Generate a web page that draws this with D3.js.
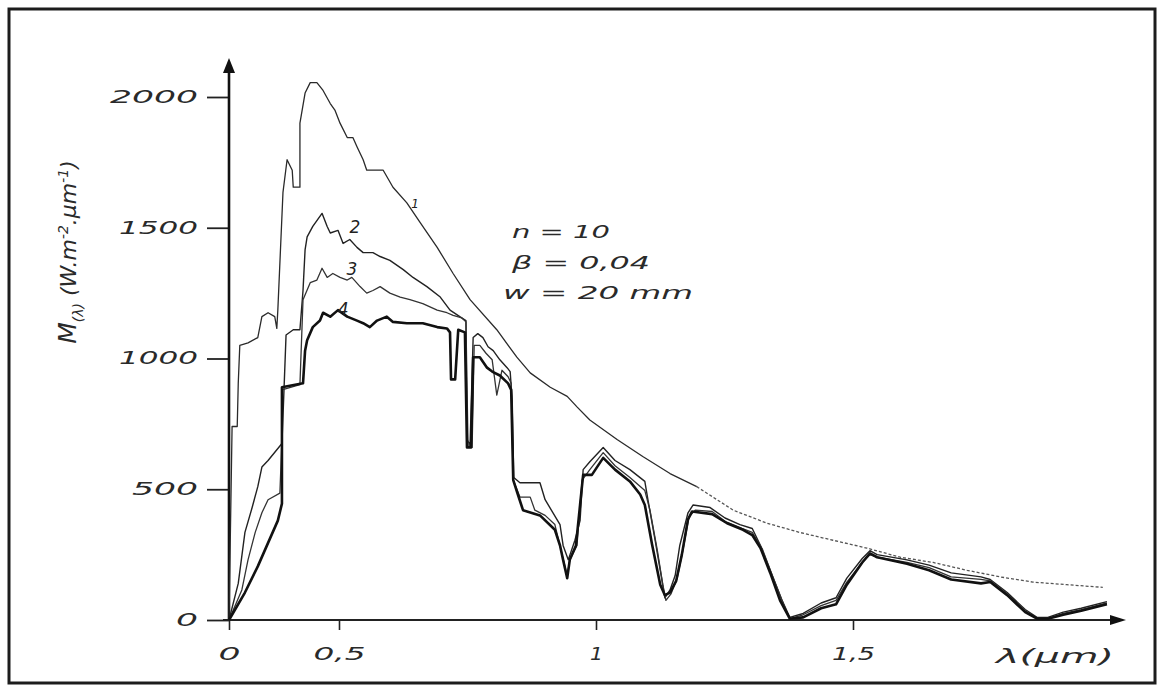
<!DOCTYPE html>
<html><head><meta charset="utf-8">
<script src="https://cdn.jsdelivr.net/npm/d3@7"></script>
<style>body{margin:0;background:#fff}svg{display:block}</style>
</head><body>
<svg id="chart" width="1162" height="689"></svg>
<script>
// Spectral irradiance M(λ) in W·m⁻²·µm⁻¹ against wavelength λ in µm.
// Curve 1: incident spectrum; curves 2–4: after successive passes (n = 10, β = 0.04, w = 20 mm).
const curve1 = [[0.286,0],[0.292,740],[0.302,740],[0.304,905],[0.307,1050],[0.323,1060],[0.342,1080],[0.350,1160],[0.362,1175],[0.375,1160],[0.379,1115],[0.381,1185],[0.391,1635],[0.399,1760],[0.409,1720],[0.411,1655],[0.424,1655],[0.424,1900],[0.434,2015],[0.444,2055],[0.457,2055],[0.469,2025],[0.483,1975],[0.492,1950],[0.502,1900],[0.516,1845],[0.527,1845],[0.535,1810],[0.547,1760],[0.554,1720],[0.586,1720],[0.605,1655],[0.632,1595],[0.658,1520],[0.691,1425],[0.722,1325],[0.755,1225],[0.807,1110],[0.846,1005],[0.872,945],[0.911,890],[0.944,855],[0.963,815],[0.988,765],[1.041,690],[1.091,625],[1.144,560],[1.196,510],[1.267,420],[1.333,370],[1.396,335],[1.461,305],[1.527,275],[1.592,240],[1.656,220],[1.722,190],[1.786,165],[1.850,145],[1.916,135],[1.986,125]];

const curve2 = [[0.286,0],[0.304,140],[0.317,335],[0.331,430],[0.342,510],[0.350,585],[0.362,610],[0.389,675],[0.393,880],[0.397,1090],[0.411,1110],[0.424,1110],[0.430,1260],[0.434,1415],[0.438,1465],[0.449,1505],[0.467,1555],[0.477,1505],[0.483,1480],[0.498,1490],[0.508,1440],[0.521,1455],[0.535,1425],[0.547,1405],[0.566,1405],[0.580,1390],[0.599,1375],[0.625,1340],[0.644,1310],[0.671,1275],[0.697,1235],[0.716,1185],[0.735,1160],[0.747,1145],[0.749,690],[0.755,670],[0.761,1080],[0.770,1095],[0.780,1080],[0.790,1045],[0.800,1030],[0.813,995],[0.827,965],[0.833,950],[0.837,840],[0.840,545],[0.852,525],[0.891,525],[0.901,460],[0.930,365],[0.936,285],[0.946,230],[0.959,305],[0.969,380],[0.975,575],[0.988,605],[1.014,660],[1.037,610],[1.066,575],[1.095,530],[1.101,460],[1.115,305],[1.128,155],[1.134,85],[1.144,115],[1.154,170],[1.163,285],[1.179,410],[1.189,440],[1.222,430],[1.251,390],[1.280,365],[1.304,350],[1.320,285],[1.339,190],[1.362,75],[1.377,10],[1.403,25],[1.438,65],[1.467,85],[1.488,160],[1.518,235],[1.533,265],[1.547,250],[1.605,230],[1.648,210],[1.691,180],[1.749,165],[1.767,155],[1.800,105],[1.835,40],[1.858,10],[1.879,10],[1.909,30],[1.944,45],[1.994,70]];

const curve3 = [[0.286,0],[0.311,115],[0.323,230],[0.337,335],[0.350,410],[0.362,460],[0.385,485],[0.389,690],[0.389,880],[0.424,900],[0.430,1225],[0.444,1290],[0.457,1300],[0.467,1345],[0.477,1310],[0.488,1325],[0.502,1310],[0.516,1300],[0.525,1310],[0.541,1275],[0.554,1250],[0.566,1260],[0.580,1275],[0.599,1250],[0.619,1235],[0.638,1225],[0.663,1210],[0.691,1185],[0.710,1175],[0.722,1165],[0.739,1155],[0.747,1140],[0.751,670],[0.759,660],[0.763,1050],[0.774,1050],[0.786,1020],[0.798,995],[0.807,860],[0.817,955],[0.829,930],[0.835,905],[0.839,535],[0.852,470],[0.872,470],[0.881,420],[0.901,400],[0.920,365],[0.934,250],[0.944,170],[0.949,230],[0.963,285],[0.973,535],[0.988,575],[1.014,640],[1.037,590],[1.066,545],[1.095,495],[1.105,420],[1.119,270],[1.130,135],[1.136,75],[1.146,100],[1.158,160],[1.169,265],[1.181,395],[1.193,420],[1.226,415],[1.253,375],[1.284,350],[1.304,335],[1.324,270],[1.343,170],[1.366,55],[1.377,5],[1.403,20],[1.438,55],[1.467,75],[1.488,145],[1.518,220],[1.533,250],[1.547,240],[1.605,220],[1.648,200],[1.691,165],[1.749,155],[1.767,150],[1.800,100],[1.835,35],[1.858,5],[1.879,5],[1.909,25],[1.944,40],[1.994,65]];

const curve4 = [[0.286,0],[0.317,105],[0.342,205],[0.362,295],[0.381,380],[0.389,445],[0.389,890],[0.430,905],[0.434,1030],[0.438,1070],[0.449,1120],[0.463,1145],[0.469,1175],[0.483,1160],[0.498,1185],[0.516,1160],[0.535,1145],[0.547,1135],[0.560,1120],[0.574,1145],[0.593,1160],[0.605,1140],[0.632,1135],[0.663,1135],[0.691,1120],[0.710,1115],[0.716,1100],[0.718,920],[0.726,920],[0.732,1110],[0.745,1100],[0.749,660],[0.757,660],[0.761,1005],[0.774,1005],[0.788,965],[0.798,950],[0.813,935],[0.829,905],[0.835,880],[0.839,535],[0.848,480],[0.858,420],[0.891,400],[0.920,345],[0.930,285],[0.936,230],[0.944,160],[0.949,230],[0.961,285],[0.969,440],[0.975,555],[0.992,555],[1.014,620],[1.037,575],[1.066,530],[1.086,480],[1.095,440],[1.109,290],[1.125,135],[1.134,95],[1.144,105],[1.156,150],[1.167,250],[1.179,385],[1.187,415],[1.226,405],[1.255,370],[1.286,345],[1.304,325],[1.320,275],[1.339,180],[1.358,75],[1.377,5],[1.403,10],[1.438,45],[1.467,60],[1.488,135],[1.518,220],[1.533,255],[1.547,240],[1.605,215],[1.648,190],[1.691,155],[1.749,140],[1.767,145],[1.800,95],[1.835,30],[1.858,5],[1.879,5],[1.909,20],[1.944,35],[1.994,60]];

const yTicks = [0, 500, 1000, 1500, 2000];
const xTicks = [0.286, 0.5, 1, 1.5];           // the axis origin sits at the short-wave cut-off
const xTickLabels = ["0", "0,5", "1", "1,5"];
const curveNames = ["1", "2", "3", "4"];
const nameLam = [0.648, 0.531, 0.525, 0.508];
const nameM = [1590, 1500, 1340, 1185];
const params = ["n = 10", "β = 0,04", "w = 20 mm"];

const svg = d3.select("#chart");
const FONT = "'DejaVu Sans', sans-serif";

// outer frame
svg.append("rect").attr("x", 9).attr("y", 9).attr("width", 1146).attr("height", 674)
  .attr("fill", "#fff").attr("stroke", "#1c1c1c").attr("stroke-width", 3);

const x = d3.scaleLinear().domain([0.286, 2.0]).range([229, 1110]);
const y = d3.scaleLinear().domain([0, 2000]).range([620, 97]);

// digit-width helper for the wide italic tick numerals
const numLen = s => Array.from(s).reduce((a, c) => a + (c === "1" ? 13 : c === "," ? 8 : 22), 0);

// y axis
const gy = svg.append("g").attr("transform", `translate(${x(0.286)},0)`)
  .call(d3.axisLeft(y).tickValues(yTicks).tickSize(22).tickPadding(9).tickFormat(d3.format("d")));
gy.select(".domain").remove();
gy.selectAll(".tick line").attr("stroke", "#222").attr("stroke-width", 1.8);
gy.selectAll(".tick text").attr("font-family", FONT).attr("font-style", "italic")
  .attr("font-size", 17).attr("fill", "#2a2a2a")
  .attr("textLength", d => numLen(String(d))).attr("lengthAdjust", "spacingAndGlyphs");

// x axis
const gx = svg.append("g").attr("transform", `translate(0,${y(0)})`)
  .call(d3.axisBottom(x).tickValues(xTicks).tickSize(10).tickPadding(18)
    .tickFormat((d, i) => xTickLabels[i]));
gx.select(".domain").remove();
gx.selectAll(".tick line").attr("stroke", "#222").attr("stroke-width", 1.6);
gx.selectAll(".tick text").attr("font-family", FONT).attr("font-style", "italic")
  .attr("font-size", 17).attr("fill", "#2a2a2a")
  .attr("textLength", (d, i) => numLen(xTickLabels[i])).attr("lengthAdjust", "spacingAndGlyphs");

// axis lines with arrow heads
const ox = x(0.286), oy = y(0);
svg.append("line").attr("x1", ox).attr("y1", oy).attr("x2", ox).attr("y2", 70)
  .attr("stroke", "#111").attr("stroke-width", 2.6);
svg.append("path").attr("d", `M${ox},58 L${ox - 6},73 L${ox + 6},73 Z`).attr("fill", "#111");
svg.append("line").attr("x1", ox - 6).attr("y1", oy).attr("x2", 1112).attr("y2", oy)
  .attr("stroke", "#222").attr("stroke-width", 2.2);
svg.append("path").attr("d", `M1126,${oy} L1110,${oy - 5} L1110,${oy + 5} Z`).attr("fill", "#111");

// curves
const line = d3.line().x(d => x(d[0])).y(d => y(d[1]));
const plot = svg.append("g").attr("fill", "none").attr("stroke-linejoin", "round");
plot.append("path").datum(curve1.filter(d => d[0] <= 1.2)).attr("d", line)
  .attr("stroke", "#2a2a2a").attr("stroke-width", 1.3);
plot.append("path").datum(curve1.filter(d => d[0] >= 1.19)).attr("d", line)
  .attr("stroke", "#555").attr("stroke-width", 1.3).attr("stroke-dasharray", "3,2");
plot.append("path").datum(curve2).attr("d", line).attr("stroke", "#222").attr("stroke-width", 1.4);
plot.append("path").datum(curve3).attr("d", line).attr("stroke", "#333").attr("stroke-width", 1.3);
plot.append("path").datum(curve4).attr("d", line).attr("stroke", "#111").attr("stroke-width", 2.6);

// curve numbers
svg.append("g").selectAll("text").data(curveNames).join("text")
  .attr("x", (d, i) => x(nameLam[i])).attr("y", (d, i) => y(nameM[i]))
  .attr("text-anchor", "middle").attr("dominant-baseline", "middle")
  .attr("font-family", FONT).attr("font-style", "italic")
  .attr("font-size", (d, i) => i === 0 ? 12 : 17).attr("fill", "#222")
  .text(d => d);

// parameters
const paramX = [512, 512, 503], paramY = [238, 269, 299], paramW = [98, 138, 190];
svg.append("g").selectAll("text").data(params).join("text")
  .attr("x", (d, i) => paramX[i]).attr("y", (d, i) => paramY[i])
  .attr("font-family", FONT).attr("font-style", "italic").attr("font-size", 18).attr("fill", "#2a2a2a")
  .attr("textLength", (d, i) => paramW[i]).attr("lengthAdjust", "spacingAndGlyphs")
  .text(d => d);

// x axis title
svg.append("text").attr("x", 996).attr("y", 663)
  .attr("font-family", FONT).attr("font-style", "italic").attr("font-size", 20).attr("fill", "#2a2a2a")
  .attr("textLength", 118).attr("lengthAdjust", "spacingAndGlyphs")
  .text("λ(µm)");

// y axis title
const yt = svg.append("text").attr("transform", "translate(76,252) rotate(-90)")
  .attr("text-anchor", "middle")
  .attr("font-family", FONT).attr("font-style", "italic").attr("font-size", 22).attr("fill", "#2a2a2a");
yt.append("tspan").attr("font-size", 25).text("M");
yt.append("tspan").attr("font-size", 14).attr("dy", 7).text("(λ)");
yt.append("tspan").attr("dy", -7).text(" (W.m");
yt.append("tspan").attr("font-size", 14).attr("dy", -8).text("-2");
yt.append("tspan").attr("dy", 8).text(".µm");
yt.append("tspan").attr("font-size", 14).attr("dy", -8).text("-1");
yt.append("tspan").attr("dy", 8).text(")");
</script>
</body></html>
